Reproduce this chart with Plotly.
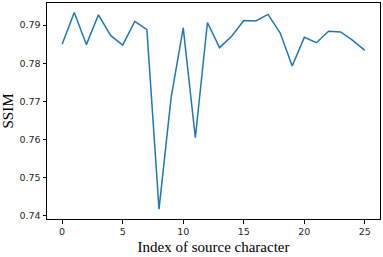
import plotly.graph_objects as go

index = list(range(26))
ssim = [0.7850, 0.7933, 0.7849, 0.7927, 0.7873, 0.7848, 0.7910, 0.7888,
        0.7418, 0.7710, 0.7893, 0.7605, 0.7907, 0.7841, 0.7871, 0.7912,
        0.7911, 0.7928, 0.7880, 0.7793, 0.7868, 0.7854, 0.7884, 0.7882,
        0.7860, 0.7834]

x_ticks = [0, 5, 10, 15, 20, 25]
y_ticks = [0.74, 0.75, 0.76, 0.77, 0.78, 0.79]

fig = go.Figure(go.Scatter(
    x=index, y=ssim, mode="lines",
    line=dict(color="#1f77b4", width=1.5)))

axis_common = dict(
    showline=True, linecolor="black", linewidth=1, mirror=True,
    ticks="outside", ticklen=3.5, tickwidth=0.8, tickcolor="black",
    showgrid=False, zeroline=False,
    tickfont=dict(family="DejaVu Sans", size=9.5, color="#262626"))

fig.update_xaxes(range=[-1.25, 26.25], tickvals=x_ticks,
                 title=dict(text="Index of source character", standoff=5,
                            font=dict(family="Liberation Serif", size=15, color="black")),
                 **axis_common)
fig.update_yaxes(range=[0.7392, 0.7958], tickvals=y_ticks, tickformat=".2f",
                 title=dict(text="SSIM", standoff=7,
                            font=dict(family="Liberation Serif", size=15, color="black")),
                 **axis_common)

fig.update_layout(width=383, height=257, template="plotly_white",
                  paper_bgcolor="white", plot_bgcolor="white",
                  showlegend=False, margin=dict(l=45, r=2, t=2, b=38))
# page body has a default 8px margin; drop it so the figure sits at the corner
fig.write_html("out.html", config={"displayModeBar": False},
               post_script="document.body.style.margin='0';")
